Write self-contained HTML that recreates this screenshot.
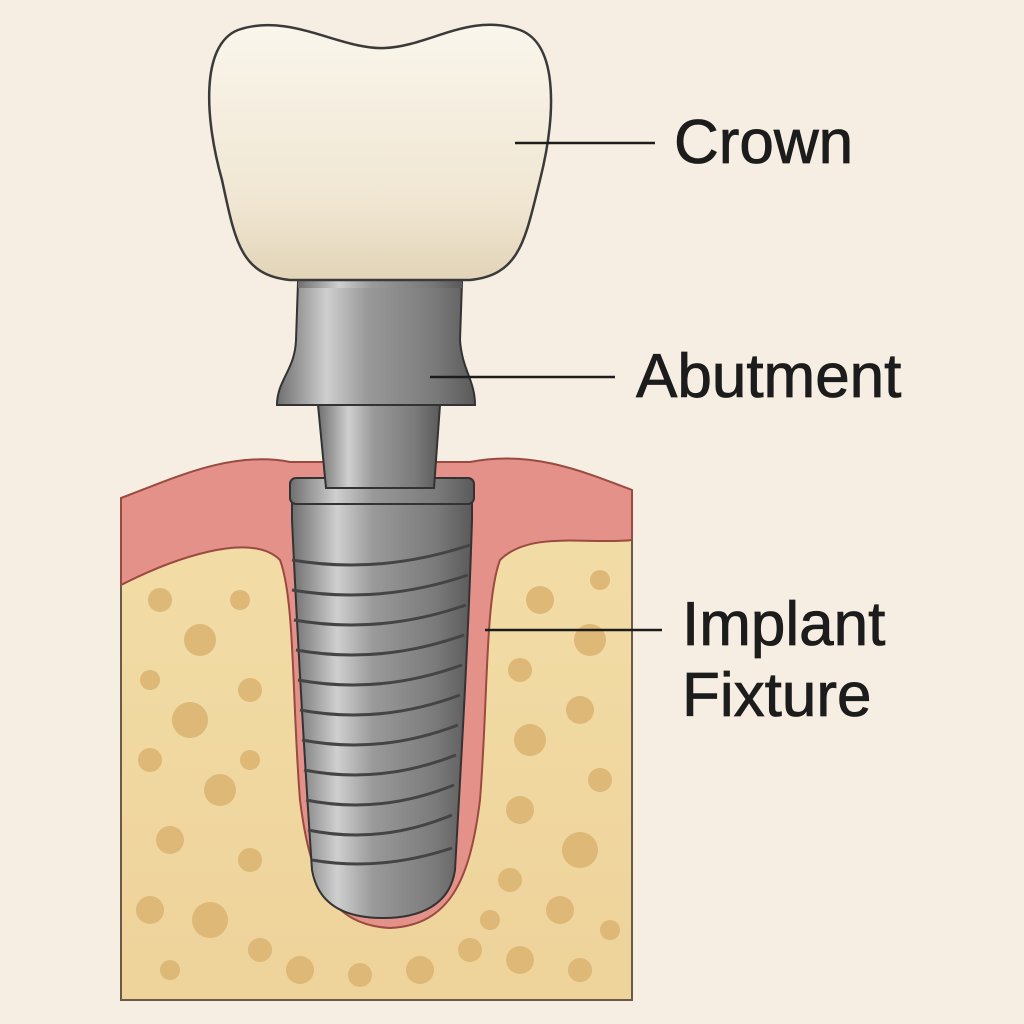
<!DOCTYPE html>
<html><head><meta charset="utf-8"><style>
html,body{margin:0;padding:0;background:#f6eee2;}
svg{display:block}
text{font-family:"Liberation Sans",sans-serif;fill:#1c1c1c;stroke:#1c1c1c;stroke-width:0.8}
</style></head><body>
<svg width="1024" height="1024" viewBox="0 0 1024 1024" xmlns="http://www.w3.org/2000/svg">
<defs>
<linearGradient id="crown" x1="0" y1="0" x2="0" y2="1">
<stop offset="0" stop-color="#faf6ec"/><stop offset="0.7" stop-color="#f0e6d2"/><stop offset="1" stop-color="#e2d4b8"/></linearGradient>
<linearGradient id="metal" x1="0" y1="0" x2="1" y2="0">
<stop offset="0" stop-color="#6f6f6f"/><stop offset="0.25" stop-color="#cfcfcf"/><stop offset="0.45" stop-color="#9a9a9a"/><stop offset="0.8" stop-color="#7a7a7a"/><stop offset="1" stop-color="#5a5a5a"/></linearGradient>
<linearGradient id="bone" x1="0" y1="0" x2="0" y2="1">
<stop offset="0" stop-color="#f2dca6"/><stop offset="1" stop-color="#eed39a"/></linearGradient>
</defs>
<rect width="1024" height="1024" fill="#f6eee2"/>
<rect x="121" y="530" width="511" height="470" fill="url(#bone)" stroke="#6a5a48" stroke-width="2"/>
<g fill="#ddb877">
<circle cx="160" cy="600" r="12"/><circle cx="200" cy="640" r="16"/><circle cx="150" cy="680" r="10"/><circle cx="240" cy="600" r="10"/><circle cx="190" cy="720" r="18"/><circle cx="250" cy="690" r="12"/><circle cx="150" cy="760" r="12"/><circle cx="220" cy="790" r="16"/><circle cx="170" cy="840" r="14"/><circle cx="250" cy="860" r="12"/><circle cx="150" cy="910" r="14"/><circle cx="210" cy="920" r="18"/><circle cx="260" cy="950" r="12"/><circle cx="170" cy="970" r="10"/><circle cx="300" cy="970" r="14"/><circle cx="360" cy="975" r="12"/><circle cx="420" cy="970" r="14"/><circle cx="470" cy="950" r="12"/><circle cx="520" cy="960" r="14"/><circle cx="580" cy="970" r="12"/><circle cx="540" cy="600" r="14"/><circle cx="590" cy="640" r="16"/><circle cx="520" cy="670" r="12"/><circle cx="580" cy="710" r="14"/><circle cx="530" cy="740" r="16"/><circle cx="600" cy="780" r="12"/><circle cx="520" cy="810" r="14"/><circle cx="580" cy="850" r="18"/><circle cx="510" cy="880" r="12"/><circle cx="560" cy="910" r="14"/><circle cx="610" cy="930" r="10"/><circle cx="490" cy="920" r="10"/><circle cx="250" cy="760" r="10"/><circle cx="600" cy="580" r="10"/>
</g>
<path d="M121 498 C170 480 230 450 290 462 L470 462 C530 450 580 470 632 490 L632 540 C590 545 530 530 500 560 C485 600 488 700 480 800 C470 880 450 925 390 928 C330 925 310 880 300 800 C292 700 295 600 280 560 C250 530 170 560 121 585 Z" fill="#e39189" stroke="#9a4a40" stroke-width="2"/>
<path d="M292 492 L472 492 L472 520 C468 650 460 780 455 870 C450 905 420 918 383 918 C345 918 318 905 312 870 C306 780 298 650 292 520 Z" fill="url(#metal)" stroke="#333" stroke-width="2"/>
<g fill="none" stroke="#444" stroke-width="3">
<path d="M292 560 Q380 575 470 545"/><path d="M292 590 Q380 605 468 575"/><path d="M294 620 Q380 635 466 605"/><path d="M296 650 Q380 665 464 635"/><path d="M298 680 Q380 695 462 665"/><path d="M300 710 Q380 725 460 695"/><path d="M302 740 Q380 755 458 725"/><path d="M304 770 Q380 785 456 755"/><path d="M306 800 Q380 815 454 785"/><path d="M308 830 Q380 845 452 815"/><path d="M312 860 Q380 872 452 848"/>
</g>
<rect x="290" y="478" width="184" height="26" rx="6" fill="url(#metal)" stroke="#333" stroke-width="2"/>
<path d="M318 405 L440 405 L434 488 L326 488 Z" fill="url(#metal)" stroke="#333" stroke-width="2"/>
<path d="M298 282 L462 282 L460 340 C462 370 475 380 475 405 L277 405 C277 380 295 370 296 340 Z" fill="url(#metal)" stroke="#333" stroke-width="2"/>
<rect x="298" y="280" width="164" height="8" fill="url(#metal)"/>
<path d="M238 30 C290 12 340 50 385 48 C430 46 470 12 520 30 C560 45 555 120 540 180 C525 240 520 275 470 280 L290 280 C240 275 235 240 222 180 C205 120 200 45 238 30 Z" fill="url(#crown)" stroke="#3a3a3a" stroke-width="2.5"/>
<g stroke="#1c1c1c" stroke-width="2.5">
<line x1="515" y1="143" x2="655" y2="143"/>
<line x1="430" y1="377" x2="615" y2="377"/>
<line x1="485" y1="630" x2="662" y2="630"/>
</g>
<text x="674" y="163" font-size="62">Crown</text>
<text x="636" y="397" font-size="62">Abutment</text>
<text x="682" y="645" font-size="62">Implant</text>
<text x="682" y="716" font-size="62">Fixture</text>
</svg>
</body></html>
